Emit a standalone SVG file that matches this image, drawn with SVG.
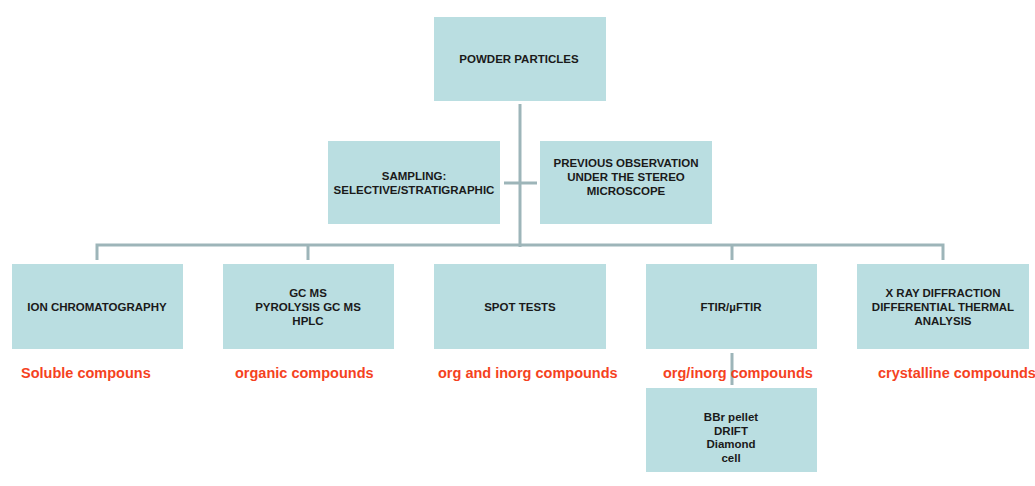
<svg xmlns="http://www.w3.org/2000/svg" width="1035" height="486" viewBox="0 0 1035 486">
<style>
.box{fill:#badee1;}
.t{font-family:"Liberation Sans",Arial,sans-serif;font-weight:bold;font-size:11.5px;fill:#1a1a1a;text-anchor:middle;dominant-baseline:central;}
.r{font-family:"Liberation Sans",Arial,sans-serif;font-weight:bold;font-size:14.5px;fill:#f5421e;}
.c{stroke:#9db5b9;stroke-width:3;fill:none;}
</style>
<rect width="1035" height="486" fill="#ffffff"/>
<g id="connectors">
<path class="c" d="M520 104 V247"/>
<path class="c" d="M504 183 H537"/>
<path class="c" d="M97 260 V245 H943 V260"/>
<path class="c" d="M308 245 V260"/>
<path class="c" d="M732 245 V260"/>
<path class="c" d="M732 353 V385"/>
</g>
<g id="powder"><rect class="box" x="434" y="17" width="172" height="84"/><text class="t" x="519" y="59">POWDER PARTICLES</text></g>
<g id="sampling"><rect class="box" x="328" y="141" width="172" height="83"/><text class="t" x="414" y="176">SAMPLING:</text><text class="t" x="414" y="190">SELECTIVE/STRATIGRAPHIC</text></g>
<g id="previous"><rect class="box" x="540" y="141" width="172" height="83"/><text class="t" x="626" y="163">PREVIOUS OBSERVATION</text><text class="t" x="626" y="177">UNDER THE STEREO</text><text class="t" x="626" y="191">MICROSCOPE</text></g>
<g id="ion"><rect class="box" x="12" y="264" width="171" height="85"/><text class="t" x="97" y="307">ION CHROMATOGRAPHY</text></g>
<g id="gcms"><rect class="box" x="223" y="264" width="171" height="85"/><text class="t" x="308" y="293">GC MS</text><text class="t" x="308" y="307">PYROLYSIS GC MS</text><text class="t" x="308" y="321">HPLC</text></g>
<g id="spot"><rect class="box" x="434" y="264" width="172" height="85"/><text class="t" x="520" y="307">SPOT TESTS</text></g>
<g id="ftir"><rect class="box" x="646" y="264" width="171" height="85"/><text class="t" x="731" y="307">FTIR/µFTIR</text></g>
<g id="xrd"><rect class="box" x="857" y="264" width="172" height="85"/><text class="t" x="943" y="293">X RAY DIFFRACTION</text><text class="t" x="943" y="307">DIFFERENTIAL THERMAL</text><text class="t" x="943" y="321">ANALYSIS</text></g>
<g id="bbr"><rect class="box" x="646" y="388" width="171" height="84"/><text class="t" x="731" y="417">BBr pellet</text><text class="t" x="731" y="431">DRIFT</text><text class="t" x="731" y="444">Diamond</text><text class="t" x="731" y="458">cell</text></g>
<g id="labels">
<text class="r" x="21" y="378">Soluble compouns</text>
<text class="r" x="235" y="378">organic compounds</text>
<text class="r" x="438" y="378">org and inorg compounds</text>
<text class="r" x="663" y="378">org/inorg compounds</text>
<text class="r" x="878" y="378">crystalline compounds</text>
</g>
</svg>
